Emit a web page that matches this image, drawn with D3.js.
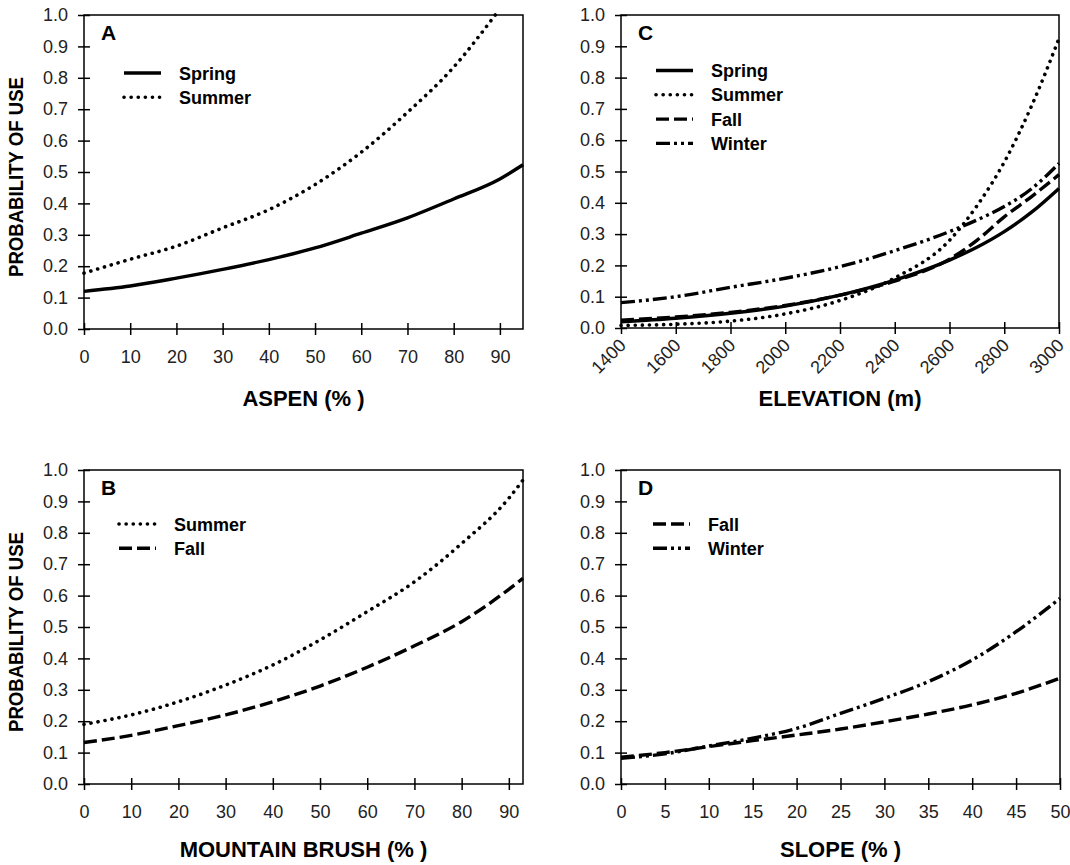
<!DOCTYPE html>
<html>
<head>
<meta charset="utf-8">
<script src="https://cdn.jsdelivr.net/npm/d3@7"></script>
<style>
  body { margin: 0; background: #fff; }
  svg { display: block; font-family: Arial, "Liberation Sans", sans-serif; }
</style>
</head>
<body>
<svg id="fig" width="1070" height="865"></svg>
<script>
// values
var yTicks = [0, 0.1, 0.2, 0.3, 0.4, 0.5, 0.6, 0.7, 0.8, 0.9, 1.0];

// A - aspen
var aspenTicks = [0, 10, 20, 30, 40, 50, 60, 70, 80, 90];
var aspenX = [0, 10, 20, 30, 40, 50, 60, 70, 80, 90, 95];
var aspenSpring = [0.12, 0.137, 0.162, 0.19, 0.221, 0.258, 0.305, 0.354, 0.414, 0.478, 0.523];
var aspenSummerX = [0, 10, 20, 30, 40, 50, 60, 70, 80, 89];
var aspenSummer = [0.178, 0.222, 0.264, 0.322, 0.38, 0.46, 0.563, 0.69, 0.834, 1.0];

// B - mountain brush
var brushTicks = [0, 10, 20, 30, 40, 50, 60, 70, 80, 90];
var brushX = [0, 10, 20, 30, 40, 50, 60, 70, 80, 90, 93];
var brushSummer = [0.19, 0.22, 0.262, 0.315, 0.379, 0.459, 0.549, 0.644, 0.766, 0.91, 0.968];
var brushFall = [0.132, 0.155, 0.186, 0.22, 0.262, 0.312, 0.372, 0.44, 0.517, 0.62, 0.655];

// C - elevation
var elevTicks = [1400, 1600, 1800, 2000, 2200, 2400, 2600, 2800, 3000];
var elevX = [1400, 1600, 1800, 2000, 2200, 2400, 2600, 2700, 2800, 2900, 3000];
var elevSpring = [0.02, 0.031, 0.047, 0.07, 0.105, 0.153, 0.217, 0.258, 0.308, 0.37, 0.446];
var elevSummer = [0.008, 0.012, 0.022, 0.045, 0.088, 0.16, 0.28, 0.39, 0.53, 0.71, 0.925];
var elevFall = [0.025, 0.035, 0.05, 0.072, 0.105, 0.15, 0.22, 0.28, 0.355, 0.42, 0.49];
var elevWinter = [0.081, 0.1, 0.13, 0.159, 0.196, 0.247, 0.308, 0.345, 0.388, 0.445, 0.526];

// D - slope
var slopeTicks = [0, 5, 10, 15, 20, 25, 30, 35, 40, 45, 50];
var slopeX = [0, 5, 10, 15, 20, 25, 30, 35, 40, 45, 50];
var slopeFall = [0.085, 0.1, 0.119, 0.138, 0.156, 0.175, 0.198, 0.223, 0.252, 0.289, 0.337];
var slopeWinter = [0.082, 0.096, 0.121, 0.146, 0.177, 0.225, 0.273, 0.326, 0.395, 0.485, 0.591];

// line styles per season
var styles = {
  Spring: {dash: null, cap: "butt", w: 3.4},
  Summer: {dash: "0.1,7", cap: "round", w: 3.6},
  Fall:   {dash: "13,5", cap: "butt", w: 3.4},
  Winter: {dash: "14,4,3,4,3,4", cap: "butt", w: 3.4}
};

var svg = d3.select("#fig");

function zip(xs, ys) {
  return xs.map(function(x, i) { return [x, ys[i]]; });
}

function panel(p) {
  var x = d3.scaleLinear().domain(p.xDomain).range([p.left, p.right]);
  var y = d3.scaleLinear().domain([0, 1]).range([p.bottom, p.top]);
  var g = svg.append("g");

  // y axis
  var ya = g.append("g")
    .attr("transform", "translate(" + p.left + ",0)")
    .call(d3.axisLeft(y).tickValues(yTicks).tickFormat(d3.format(".1f"))
      .tickSizeOuter(0).tickSize(6).tickPadding(10));
  ya.select(".domain").remove();
  ya.selectAll(".tick line").attr("x1", 6).attr("stroke-width", 1.5);
  ya.selectAll("text").style("font-size", "18px").attr("fill", "#222");

  // x axis
  var xa = g.append("g")
    .attr("transform", "translate(0," + p.bottom + ")")
    .call(d3.axisBottom(x).tickValues(p.ticks).tickFormat(d3.format("d"))
      .tickSizeOuter(0).tickSize(6).tickPadding(15));
  xa.select(".domain").remove();
  xa.selectAll(".tick line").attr("y1", -6).attr("stroke-width", 1.5);
  xa.selectAll("text").style("font-size", "18px").attr("fill", "#222");
  if (p.rotate) {
    xa.selectAll("text")
      .attr("y", 0).attr("dy", "0.35em")
      .attr("text-anchor", "end")
      .attr("transform", "translate(1,14) rotate(-45)");
  }

  // frame
  g.append("rect")
    .attr("x", p.left).attr("y", p.top)
    .attr("width", p.right - p.left).attr("height", p.bottom - p.top)
    .attr("fill", "none").attr("stroke", "#000").attr("stroke-width", 1.5);

  // curves
  var line = d3.line()
    .x(function(d) { return x(d[0]); })
    .y(function(d) { return y(d[1]); })
    .curve(d3.curveMonotoneX);

  p.series.forEach(function(s) {
    var st = styles[s.name];
    g.append("path")
      .datum(zip(s.x, s.y))
      .attr("d", line)
      .attr("fill", "none")
      .attr("stroke", "#000")
      .attr("stroke-width", st.w)
      .attr("stroke-linecap", st.cap)
      .attr("stroke-dasharray", st.dash);
  });

  // panel letter
  g.append("text")
    .attr("x", p.left + 17).attr("y", p.top + 25)
    .style("font-size", "21px").style("font-weight", "bold")
    .text(p.letter);

  // legend
  p.series.forEach(function(s, i) {
    var st = styles[s.name];
    var ly = p.legY + i * 24.3;
    g.append("line")
      .attr("x1", p.legX).attr("x2", p.legX + 37)
      .attr("y1", ly).attr("y2", ly)
      .attr("stroke", "#000")
      .attr("stroke-width", st.w)
      .attr("stroke-linecap", st.cap)
      .attr("stroke-dasharray", st.dash);
    g.append("text")
      .attr("x", p.legX + 55).attr("y", ly + 6.5)
      .style("font-size", "18px").style("font-weight", "bold")
      .text(s.name);
  });

  // axis titles
  g.append("text")
    .attr("x", (p.left + p.right) / 2).attr("y", p.xTitleY)
    .attr("text-anchor", "middle")
    .style("font-size", "22px").style("font-weight", "bold")
    .text(p.xTitle);

  if (p.yTitle) {
    g.append("text")
      .attr("transform", "translate(23," + p.yTitleC + ") rotate(-90)")
      .attr("text-anchor", "middle")
      .attr("textLength", 200).attr("lengthAdjust", "spacingAndGlyphs")
      .style("font-size", "21px").style("font-weight", "bold")
      .text("PROBABILITY OF USE");
  }
}

panel({
  letter: "A", left: 84, right: 523, top: 15, bottom: 329, xDomain: [0, 95], ticks: aspenTicks,
  xTitle: "ASPEN (% )", xTitleY: 406, yTitle: true, yTitleC: 177,
  legX: 124, legY: 73,
  series: [
    {name: "Spring", x: aspenX, y: aspenSpring},
    {name: "Summer", x: aspenSummerX, y: aspenSummer}
  ]
});

panel({
  letter: "B", left: 84, right: 523, top: 470, bottom: 784, xDomain: [0, 93], ticks: brushTicks,
  xTitle: "MOUNTAIN BRUSH (% )", xTitleY: 857, yTitle: true, yTitleC: 632,
  legX: 119, legY: 524,
  series: [
    {name: "Summer", x: brushX, y: brushSummer},
    {name: "Fall", x: brushX, y: brushFall}
  ]
});

panel({
  letter: "C", left: 621, right: 1059, top: 15, bottom: 328, xDomain: [1400, 3000], ticks: elevTicks,
  xTitle: "ELEVATION (m)", xTitleY: 406, yTitle: false, rotate: true,
  legX: 656, legY: 70.5,
  series: [
    {name: "Spring", x: elevX, y: elevSpring},
    {name: "Summer", x: elevX, y: elevSummer},
    {name: "Fall", x: elevX, y: elevFall},
    {name: "Winter", x: elevX, y: elevWinter}
  ]
});

panel({
  letter: "D", left: 621, right: 1060, top: 470, bottom: 784, xDomain: [0, 50], ticks: slopeTicks,
  xTitle: "SLOPE (% )", xTitleY: 857, yTitle: false,
  legX: 653, legY: 524,
  series: [
    {name: "Fall", x: slopeX, y: slopeFall},
    {name: "Winter", x: slopeX, y: slopeWinter}
  ]
});
</script>
</body>
</html>
